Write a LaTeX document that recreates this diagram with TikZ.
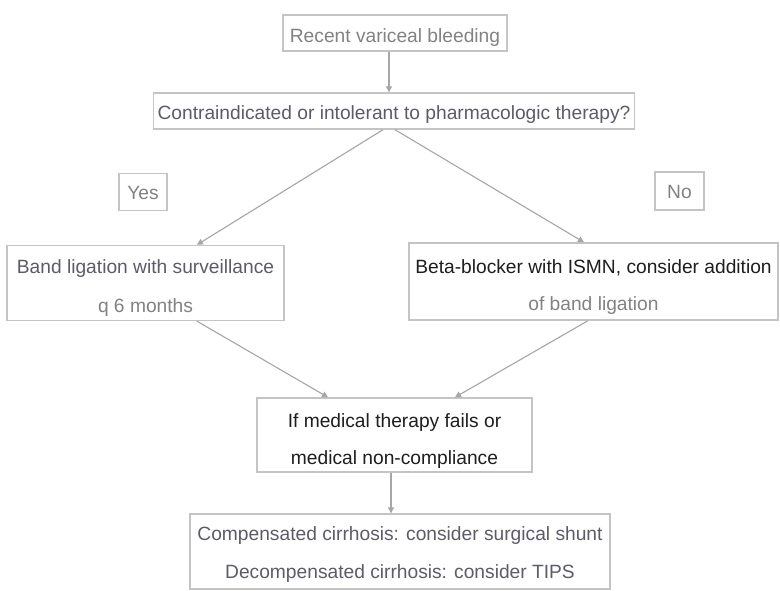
\documentclass[tikz,border=0pt]{standalone}
\usepackage{fontspec}
\setmainfont{Liberation Sans}
\usetikzlibrary{arrows.meta}
\definecolor{edgegray}{HTML}{C4C4C4}
\definecolor{arrowgray}{HTML}{A6A6A6}
\definecolor{textgray}{HTML}{5C5C68}
\definecolor{lightgray}{HTML}{828282}
\definecolor{darktext}{HTML}{1E1E1E}
% invisible strut that pushes a node's text a little lower in its box
\newcommand\lift[1]{\rule{0pt}{#1pt}}
\begin{document}
\begin{tikzpicture}[x=1pt,y=-1pt,
  box/.style={draw=edgegray, line width=1.4pt, rectangle, inner sep=0pt,
    align=center, text=textgray},
  oneline/.style={font=\fontsize{19.2}{23}\selectfont},
  twoline/.style={font=\fontsize{19.2}{37}\selectfont},
  arr/.style={draw=arrowgray, line width=1.1pt,
    -{Triangle[width=6pt,length=6pt]}}]
\useasboundingbox (0,0) rectangle (780,590);
\fill[white] (0,0) rectangle (780,590);

% decision tree boxes
\node[box, oneline, minimum width=224pt, minimum height=36pt, text=lightgray]
  (start) at (395,33) {\lift{22}Recent variceal bleeding};
\node[box, oneline, minimum width=481pt, minimum height=36pt]
  (ask) at (394,111) {\lift{20}Contraindicated or intolerant to pharmacologic therapy?};
\node[box, oneline, minimum width=48pt, minimum height=37pt, text=lightgray]
  (yes) at (143,192) {\lift{16}Yes};
\node[box, oneline, minimum width=49pt, minimum height=38pt, text=lightgray]
  (no) at (679.5,191) {\lift{16}No};
\node[box, twoline, minimum width=277pt, minimum height=75pt]
  (band) at (145.5,283) {\lift{24}Band ligation with surveillance\\[2pt]
  \textcolor{lightgray}{q 6 months}};
\node[box, twoline, minimum width=369pt, minimum height=77pt]
  (beta) at (593.5,281.5) {\lift{24}\textcolor{darktext}{Beta-blocker with ISMN, consider addition}\\
  \textcolor{lightgray}{of band ligation}};
\node[box, twoline, minimum width=275pt, minimum height=74pt, text=darktext]
  (fail) at (394.5,435) {\lift{26}If medical therapy fails or\\ medical non-compliance};
\node[box, twoline, minimum width=420pt, minimum height=75pt]
  (final) at (400,551.5) {\lift{20}Compensated cirrhosis: consider surgical shunt\\[1pt]
  Decompensated cirrhosis: consider TIPS};

% connectors
\draw[arr] ([xshift=-6pt]start.south) -- ([xshift=-5pt]ask.north);
\draw[arr] ([xshift=-11pt]ask.south) -- ([xshift=51.5pt]band.north);
\draw[arr] ([xshift=1pt]ask.south) -- ([xshift=-9.5pt]beta.north);
\draw[arr] ([xshift=51.5pt]band.south) -- ([xshift=-66.5pt]fail.north);
\draw[arr] ([xshift=-5.5pt]beta.south) -- ([xshift=60.5pt]fail.north);
\draw[arr] ([xshift=-3.5pt]fail.south) -- ([xshift=-9pt]final.north);
\end{tikzpicture}
\end{document}
